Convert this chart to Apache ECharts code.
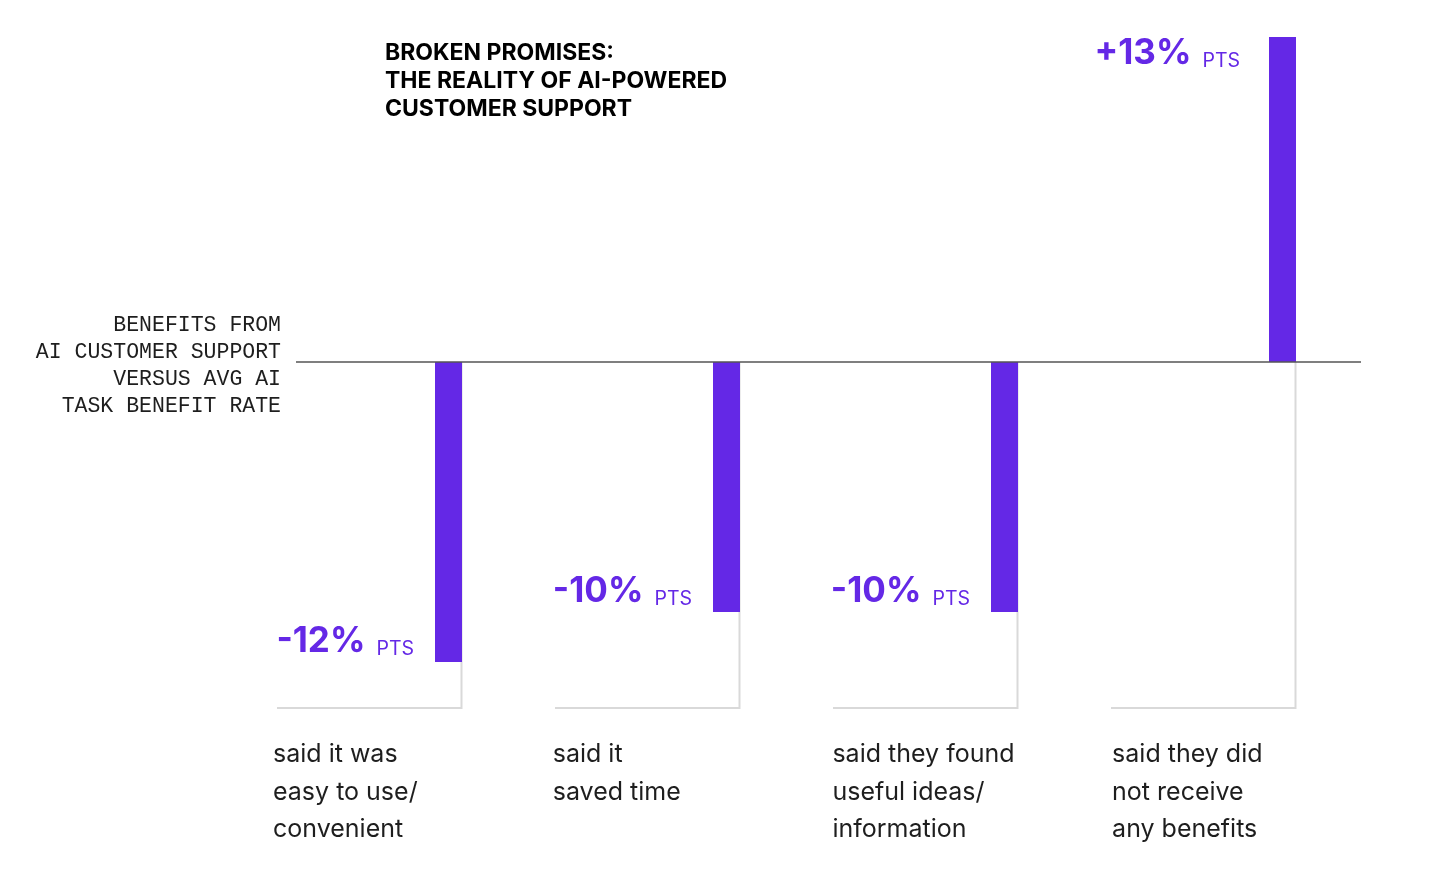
<!DOCTYPE html>
<html>
<head>
<meta charset="utf-8">
<script src="https://cdn.jsdelivr.net/npm/echarts@6/dist/echarts.min.js"></script>
<style>
html,body{margin:0;padding:0;background:#fff;}
#chart{width:1453px;height:886px;}
</style>
</head>
<body>
<div id="chart"></div>
<script>
var categories = [
  'said it was\neasy to use/\nconvenient',
  'said it\nsaved time',
  'said they found\nuseful ideas/\ninformation',
  'said they did\nnot receive\nany benefits'
];
var values = [-12, -10, -10, 13];
var valueLabels = ['-12%', '-10%', '-10%', '+13%'];
var unitLabel = 'PTS';
var titleLines = ['BROKEN PROMISES:', 'THE REALITY OF AI-POWERED', 'CUSTOMER SUPPORT'];
var axisNoteLines = ['BENEFITS FROM', 'AI CUSTOMER SUPPORT', 'VERSUS AVG AI', 'TASK BENEFIT RATE'];

var PURPLE = '#6428e6';
var GRAY = '#d9d9d9';

var chart = echarts.init(document.getElementById('chart'));

function renderBar(params, api) {
  var idx = api.value(0);
  var val = api.value(1);
  var center = api.coord([idx, 0]);
  var bandW = api.size([1, 0])[0];
  var y0 = center[1];
  var y1 = api.coord([idx, val])[1];
  var bandStart = center[0] - bandW / 2;
  var barLeft = center[0] + 19;
  var barW = 27;
  var barRight = barLeft + barW;
  var bracketY = y0 + 346;
  var children = [];
  children.push({
    type: 'polyline',
    shape: { points: [[barRight - 0.5, y0], [barRight - 0.5, bracketY], [bandStart, bracketY]] },
    style: { stroke: GRAY, lineWidth: 2, fill: null },
    z2: 1
  });
  children.push({
    type: 'rect',
    shape: { x: barLeft, y: Math.min(y0, y1), width: barW, height: Math.abs(y1 - y0) },
    style: { fill: PURPLE },
    z2: 2
  });
  var labelY = val < 0 ? y1 - 23 : y1 + 14;
  var labelGap = val < 0 ? 21 : 29;
  children.push({
    type: 'text',
    x: barLeft - labelGap,
    y: labelY,
    style: {
      text: '{v|' + valueLabels[params.dataIndex] + '}{u|' + unitLabel + '}',
      align: 'right',
      verticalAlign: 'middle',
      rich: {
        v: { fontFamily: 'Inter', fontWeight: 700, fontSize: 35, fill: PURPLE, verticalAlign: 'bottom', lineHeight: 40 },
        u: { fontFamily: 'Inter', fontWeight: 400, fontSize: 19.5, fill: PURPLE, verticalAlign: 'bottom', lineHeight: 33, padding: [0, 0, 0, 11] }
      }
    },
    z2: 3
  });
  children.push({
    type: 'text',
    x: bandStart - 4 + idx * 1.7,
    y: bracketY + 28,
    style: {
      text: categories[params.dataIndex],
      align: 'left',
      verticalAlign: 'top',
      fontFamily: 'Inter',
      fontSize: 25,
      lineHeight: 37.5,
      fill: '#1e1e1e'
    },
    z2: 3
  });
  return { type: 'group', children: children };
}

function renderBaseline(params, api) {
  var cs = params.coordSys;
  var y0 = api.coord([0, 0])[1];
  return {
    type: 'line',
    shape: { x1: cs.x + 19, y1: y0, x2: cs.x + cs.width - 28, y2: y0 },
    style: { stroke: '#555555', lineWidth: 1.5 },
    z2: 10
  };
}

chart.setOption({
  animation: false,
  backgroundColor: '#ffffff',
  grid: { left: 277, top: 37, width: 1112, height: 675 },
  xAxis: { type: 'category', data: categories, show: false },
  yAxis: { type: 'value', min: -14, max: 13, show: false },
  title: {
    text: titleLines.join('\n'),
    left: 385,
    top: 38.5,
    padding: 0,
    textStyle: { fontFamily: 'Inter', fontWeight: 700, fontSize: 23, lineHeight: 28.3, color: '#000' }
  },
  graphic: [{
    type: 'text',
    x: 281,
    y: 312,
    style: {
      text: axisNoteLines.join('\n'),
      align: 'right',
      verticalAlign: 'top',
      fontFamily: 'Liberation Mono',
      fontSize: 21.5,
      lineHeight: 27,
      fill: '#1e1e1e'
    }
  }],
  series: [{
    type: 'custom',
    renderItem: renderBar,
    data: values.map(function (v, i) { return [i, v]; }),
    encode: { x: 0, y: 1 },
    z: 2
  }, {
    type: 'custom',
    renderItem: renderBaseline,
    data: [[0, 0]],
    encode: { x: 0, y: 1 },
    z: 3
  }]
});
</script>
</body>
</html>
